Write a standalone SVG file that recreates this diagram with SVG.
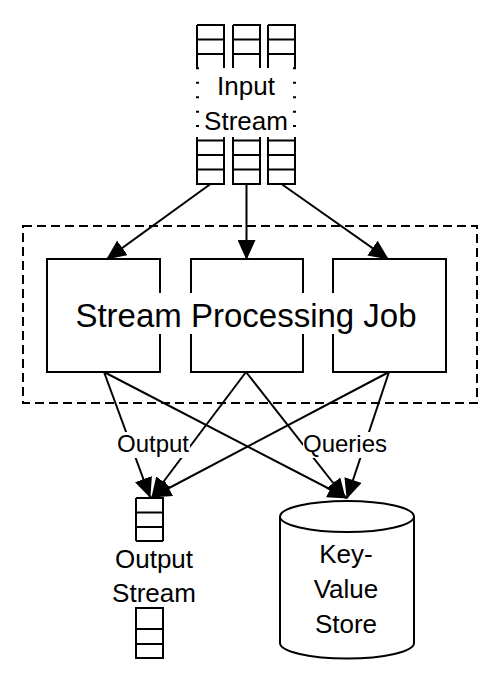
<svg xmlns="http://www.w3.org/2000/svg" width="499" height="683" viewBox="0 0 499 683">
<defs>
<style>
.ln{stroke:#000;stroke-width:2;fill:none}
.cell{stroke:#000;stroke-width:2;fill:#fff}
.arr{stroke:#000;stroke-width:2;fill:none;marker-end:url(#ah)}
.t{font-family:"Liberation Sans",Arial,Helvetica,sans-serif;fill:#000;text-anchor:middle}
.bg{fill:#fff;stroke:none}
</style>
<marker id="ah" markerUnits="userSpaceOnUse" markerWidth="20" markerHeight="18" refX="19" refY="9" orient="auto">
<path d="M0,0 L20,9 L0,18 Z" fill="#000"/>
</marker>
</defs>
<rect width="499" height="683" fill="#fff"/>

<g id="connectors">
<line class="arr" x1="210.5" y1="184" x2="107" y2="259"/>
<line class="arr" x1="246.5" y1="184" x2="246.5" y2="259"/>
<line class="arr" x1="281.5" y1="184" x2="388" y2="259"/>
<line class="arr" x1="104" y1="372" x2="150" y2="497"/>
<line class="arr" x1="104" y1="372" x2="347" y2="498"/>
<line class="arr" x1="246" y1="372" x2="152" y2="497"/>
<line class="arr" x1="246" y1="372" x2="345" y2="498"/>
<line class="arr" x1="389" y1="372" x2="152" y2="497"/>
<line class="arr" x1="389" y1="372" x2="347" y2="498"/>
<g id="label-output">
<rect class="bg" x="116" y="432" width="74" height="26"/>
<text class="t" x="153" y="452" font-size="24">Output</text>
</g>
<g id="label-queries">
<rect class="bg" x="303" y="432" width="84" height="26"/>
<text class="t" x="345" y="452" font-size="24">Queries</text>
</g>
</g>

<g id="input-stream">
<g class="ln">
<path d="M197,25 H224 V68 M197,25 V68 M197,39.5 H224 M197,54 H224"/>
<path d="M233,25 H260 V68 M233,25 V68 M233,39.5 H260 M233,54 H260"/>
<path d="M268,25 H295 V68 M268,25 V68 M268,39.5 H295 M268,54 H295"/>
<path d="M197,137 V184 H224 V137 M197,140.6 H224 M197,155 H224 M197,169.5 H224"/>
<path d="M233,137 V184 H260 V137 M233,140.6 H260 M233,155 H260 M233,169.5 H260"/>
<path d="M268,137 V184 H295 V137 M268,140.6 H295 M268,155 H295 M268,169.5 H295"/>
<path d="M196,68.3 h3 M196,82.8 h3 M196,97.2 h3 M196,111.7 h3 M196,126.1 h3 M293,68.3 h3 M293,82.8 h3 M293,97.2 h3 M293,111.7 h3 M293,126.1 h3"/>
</g>
<text class="t" x="246" y="95" font-size="26">Input</text>
<text class="t" x="246" y="130" font-size="26">Stream</text>
</g>

<g id="job-group">
<rect x="23" y="226" width="454" height="177" fill="none" stroke="#000" stroke-width="2" stroke-dasharray="9 5"/>
</g>
<g id="job-1"><rect class="ln" x="47" y="259" width="113" height="113"/></g>
<g id="job-2"><rect class="ln" x="191" y="259" width="112" height="113"/></g>
<g id="job-3"><rect class="ln" x="333" y="259" width="113" height="113"/></g>
<g id="job-label">
<rect class="bg" x="74" y="293" width="344" height="41"/>
<text class="t" x="246" y="327" font-size="33">Stream Processing Job</text>
</g>

<g id="output-stream">
<path class="ln" d="M136,498 H163 V541 M136,498 V541 M136,512.5 H163 M136,527 H163 M136,541 H163"/>
<path class="ln" d="M136,608 H163 V658 H136 Z M136,629 H163 M136,644 H163"/>
<text class="t" x="154" y="568" font-size="26">Output</text>
<text class="t" x="154" y="602" font-size="26">Stream</text>
</g>

<g id="kv-store">
<path class="ln" d="M280,516.5 V643 A67,15.5 0 0 0 414,643 V516.5 A67,15.5 0 0 0 280,516.5 A67,15.5 0 0 0 414,516.5"/>
<text class="t" x="346" y="563" font-size="26">Key-</text>
<text class="t" x="346" y="598" font-size="26">Value</text>
<text class="t" x="346" y="633" font-size="26">Store</text>
</g>
</svg>
